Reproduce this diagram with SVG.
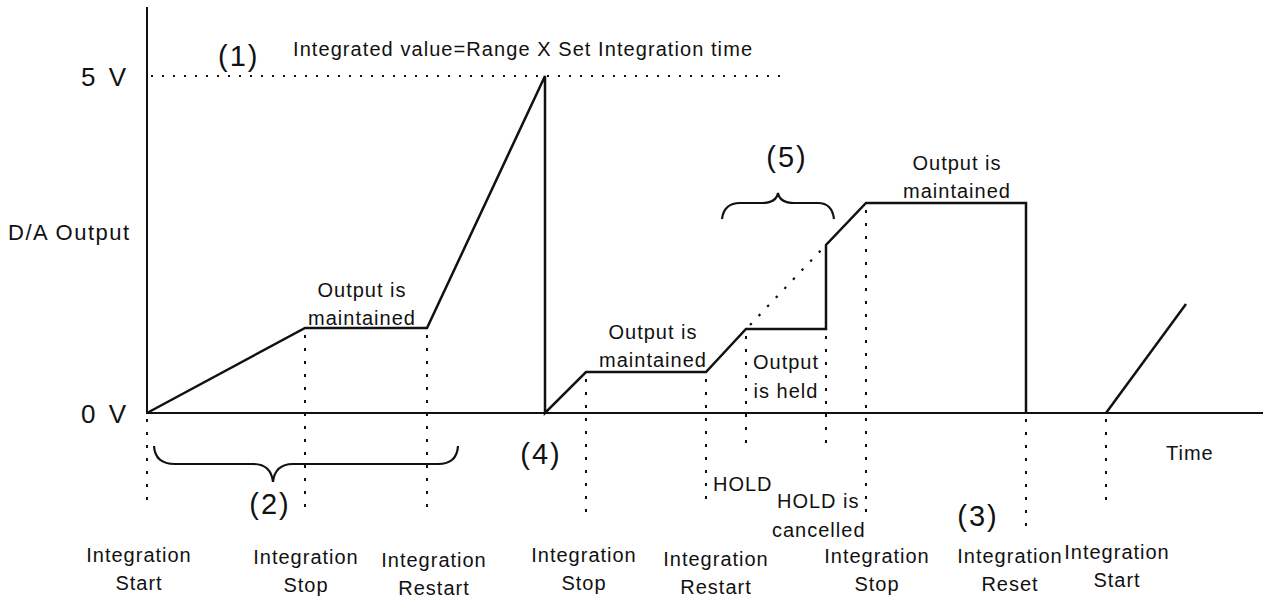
<svg xmlns="http://www.w3.org/2000/svg" width="1263" height="598" viewBox="0 0 1263 598">
<style>
text{font-family:"Liberation Sans",Arial,sans-serif;fill:#111}
.lbl{font-size:20px;letter-spacing:1px}
.big{font-size:29px;letter-spacing:2px}
.v{font-size:26px;letter-spacing:3px}
.ax{stroke:#111;stroke-width:2;fill:none}
.wave{stroke:#111;stroke-width:2.5;fill:none;stroke-linejoin:miter}
.dotv{stroke:#111;stroke-width:2;stroke-dasharray:3 10;fill:none}
.doth{stroke:#111;stroke-width:2;stroke-dasharray:2 9;fill:none}
.dotd{stroke:#111;stroke-width:2.2;stroke-dasharray:2.5 10;fill:none}
.brace{stroke:#111;stroke-width:2.2;fill:none}
</style>
<rect width="1263" height="598" fill="#fff"/>
<g id="axes">
<line class="ax" x1="147" y1="7" x2="147" y2="414"/>
<line class="ax" x1="146" y1="413" x2="1263" y2="413"/>
<text class="v" x="81" y="86">5 V</text>
<text class="v" x="81" y="423">0 V</text>
<text x="8" y="240" font-size="22" letter-spacing="1.5">D/A Output</text>
<text class="lbl" x="1166" y="460" font-size="21">Time</text>
</g>
<g id="connectors">
<line class="doth" x1="151" y1="76" x2="785" y2="76"/>
<path class="wave" d="M147,413 L305,328 L427,328 L545,76 L545,413 L586,372 L706,372 L746,329 L826,329 L826,245 L866,203 L1026,203 L1026,413"/>
<path class="wave" d="M1106,413 L1186,304"/>
<line class="dotd" x1="750" y1="325" x2="824" y2="247"/>
<line class="dotv" x1="147" y1="419" x2="147" y2="509"/>
<line class="dotv" x1="305" y1="335" x2="305" y2="513"/>
<line class="dotv" x1="427" y1="335" x2="427" y2="513"/>
<line class="dotv" x1="586" y1="379" x2="586" y2="515"/>
<line class="dotv" x1="706" y1="379" x2="706" y2="504"/>
<line class="dotv" x1="746" y1="336" x2="746" y2="448"/>
<line class="dotv" x1="826" y1="336" x2="826" y2="448"/>
<line class="dotv" x1="866" y1="210" x2="866" y2="516"/>
<line class="dotv" x1="1026" y1="419" x2="1026" y2="526"/>
<line class="dotv" x1="1106" y1="419" x2="1106" y2="510"/>
<path class="brace" d="M154,446 Q155,464 175,464 L253,464 Q271,464 273,482 Q275,464 293,464 L438,464 Q457,464 458,446"/>
<path class="brace" d="M722,219 Q724,203 740,203 L762,203 Q776,203 778,193 Q780,203 794,203 L818,203 Q832,203 834,219"/>
</g>
<g id="n1"><text class="big" x="218" y="66">(1)</text>
<text x="293" y="56" font-size="20" textLength="459" lengthAdjust="spacing">Integrated value=Range X Set Integration time</text></g>
<g id="n2"><text class="big" x="270" y="514" text-anchor="middle">(2)</text></g>
<g id="n3"><text class="big" x="978" y="526" text-anchor="middle">(3)</text></g>
<g id="n4"><text class="big" x="541" y="464" text-anchor="middle">(4)</text></g>
<g id="n5"><text class="big" x="787" y="167" text-anchor="middle">(5)</text></g>
<g id="m1" class="lbl" text-anchor="middle"><text x="362" y="297">Output is</text><text x="362" y="325">maintained</text></g>
<g id="m2" class="lbl" text-anchor="middle"><text x="653" y="339">Output is</text><text x="653" y="367">maintained</text></g>
<g id="m3" class="lbl" text-anchor="middle"><text x="786" y="369">Output</text><text x="786" y="398">is held</text></g>
<g id="m4" class="lbl" text-anchor="middle"><text x="957" y="170">Output is</text><text x="957" y="198">maintained</text></g>
<g id="hold"><text class="lbl" x="713" y="491" font-size="21" letter-spacing="1.5">HOLD</text></g>
<g id="holdc" class="lbl"><text x="777" y="508">HOLD is</text><text x="772" y="537">cancelled</text></g>
<g id="e1" class="lbl" text-anchor="middle"><text x="139" y="562">Integration</text><text x="139" y="590">Start</text></g>
<g id="e2" class="lbl" text-anchor="middle"><text x="306" y="564">Integration</text><text x="306" y="592">Stop</text></g>
<g id="e3" class="lbl" text-anchor="middle"><text x="434" y="567">Integration</text><text x="434" y="595">Restart</text></g>
<g id="e4" class="lbl" text-anchor="middle"><text x="584" y="562">Integration</text><text x="584" y="590">Stop</text></g>
<g id="e5" class="lbl" text-anchor="middle"><text x="716" y="566">Integration</text><text x="716" y="594">Restart</text></g>
<g id="e6" class="lbl" text-anchor="middle"><text x="877" y="563">Integration</text><text x="877" y="591">Stop</text></g>
<g id="e7" class="lbl" text-anchor="middle"><text x="1010" y="563">Integration</text><text x="1010" y="591">Reset</text></g>
<g id="e8" class="lbl" text-anchor="middle"><text x="1117" y="559">Integration</text><text x="1117" y="587">Start</text></g>
</svg>
